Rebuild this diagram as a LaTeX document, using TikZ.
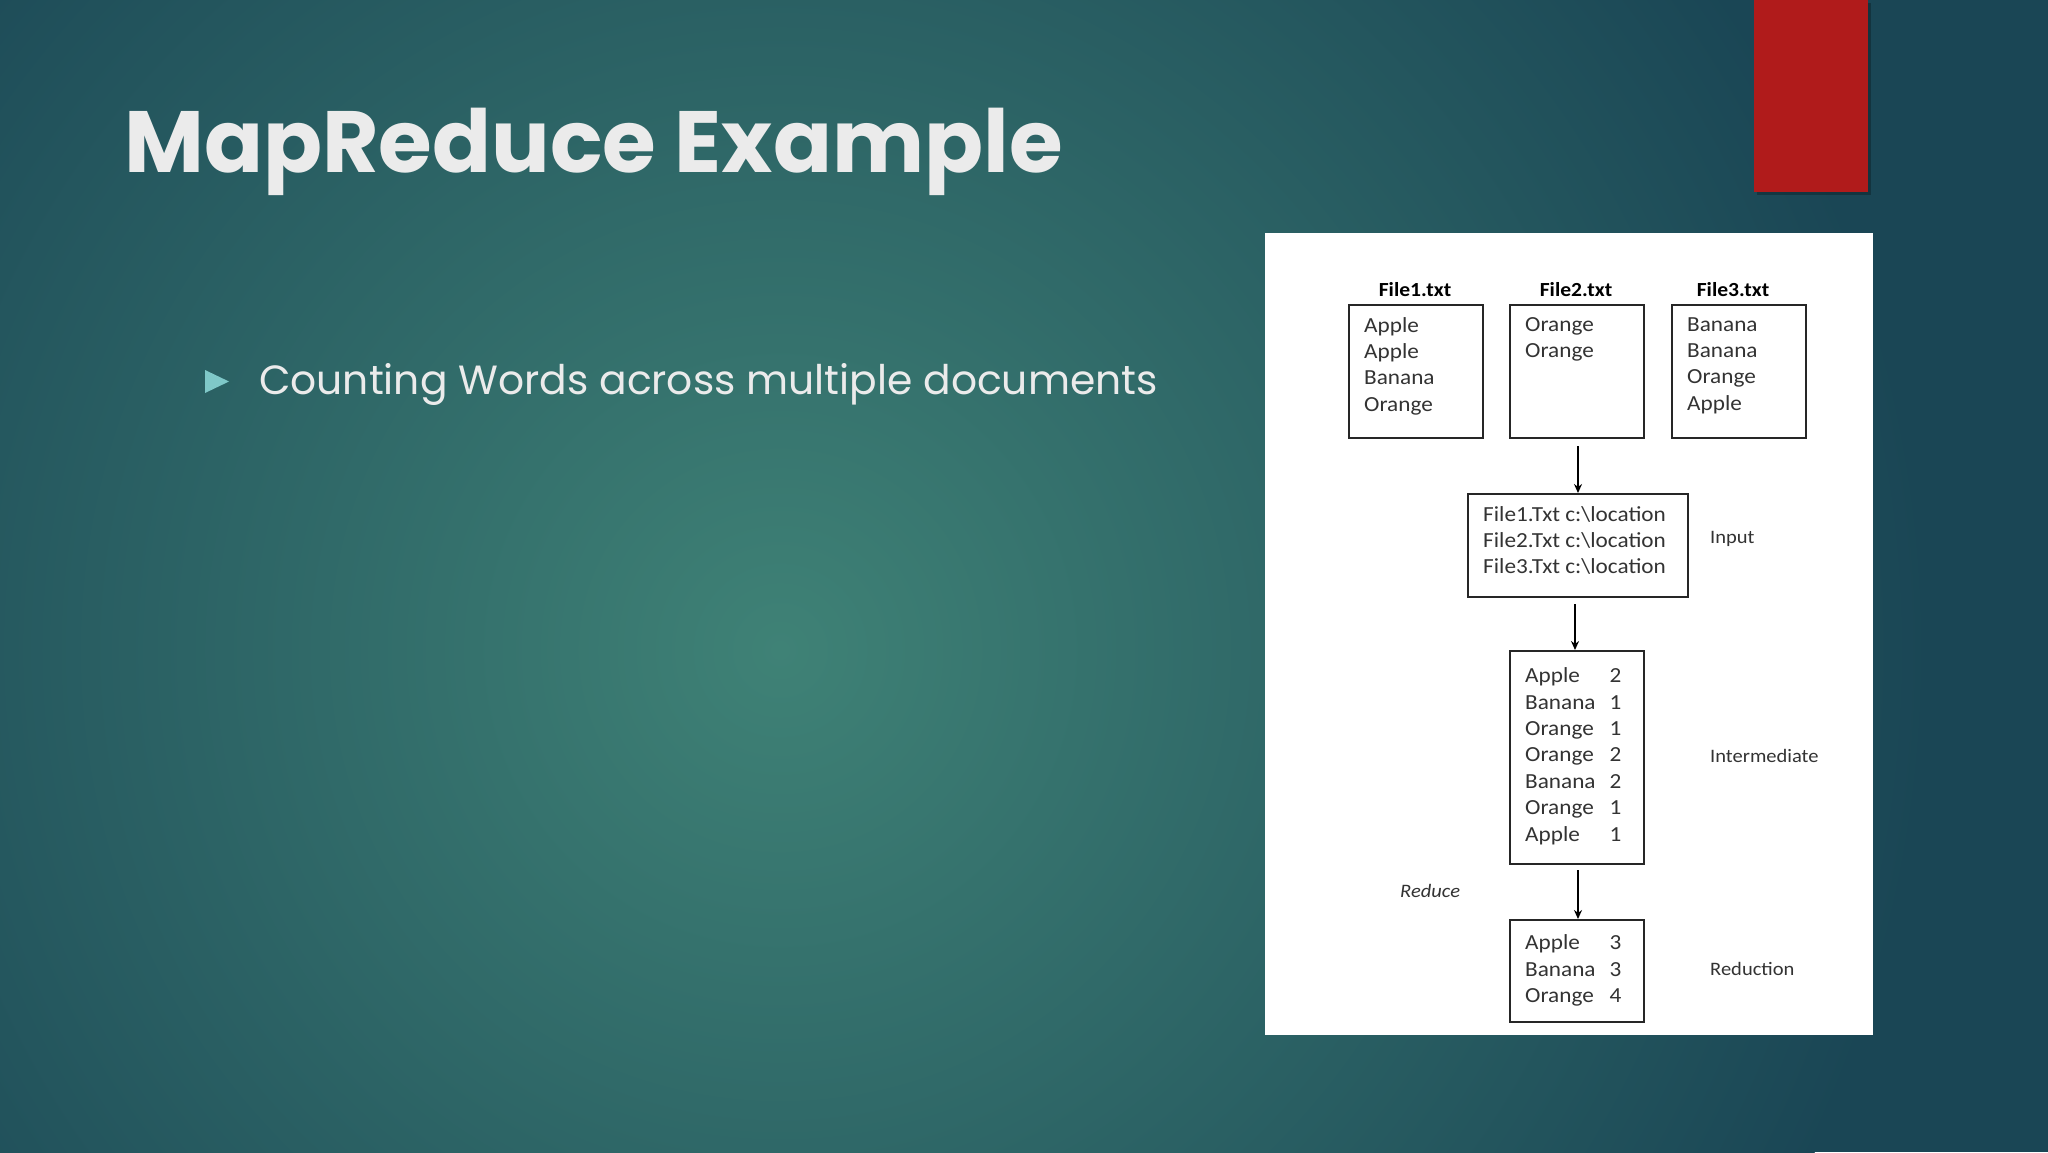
\documentclass[tikz,border=0pt]{standalone}
\usepackage{fontspec}
\setmainfont{Carlito}[FakeStretch=1.08]
\newfontfamily\titlefont{Poppins}
\usetikzlibrary{arrows.meta}
\definecolor{bgin}{HTML}{3F8276}
\definecolor{bgout}{HTML}{1A4655}
\definecolor{slidered}{HTML}{B01B1B}
\definecolor{tri}{HTML}{7FC8C8}
\tikzset{
  box/.style={draw=black!85, line width=1.8pt, inner sep=0pt},
  txt/.style={anchor=north west, inner sep=0pt, align=left, font=\fontsize{21.5}{26.4}\selectfont, text=black!80},
  lbl/.style={anchor=west, inner sep=0pt, font=\fontsize{19}{21}\selectfont, text=black!80},
  hdr/.style={inner sep=0pt, anchor=base, font=\bfseries\fontsize{20}{22}\selectfont},
  arr/.style={line width=2.2pt, -{Stealth[length=9pt,width=8pt]}}
}
\begin{document}
\begin{tikzpicture}[x=1pt,y=-1pt]
\useasboundingbox (0,0) rectangle (2048,1152);
\begin{scope}
\clip (0,0) rectangle (2048,1152);
\fill[bgout] (0,0) rectangle (2048,1152);
\shade[inner color=bgin, outer color=bgout] (780,650) circle (1150);
\end{scope}
% red tab
\fill[black,opacity=0.25] (1757,3) rectangle (1871,195);
\fill[slidered] (1754,0) rectangle (1868,192);
% title
\node[anchor=base west, inner sep=0pt, text=white!92!black, font=\titlefont\bfseries\fontsize{87}{96}\selectfont] (title) at (124,172) {MapReduce Example};
% bullet
\fill[tri] (205,370) -- (229,381.5) -- (205,393) -- cycle;
\node[anchor=base west, inner sep=0pt, text=white!92!black, font=\titlefont\fontsize{40.8}{46}\selectfont] (bullet) at (259,394) {Counting Words across multiple documents};
% white panel
\fill[white] (1265,233) rectangle (1873,1035);
% file boxes
\node[hdr] (h1) at (1415,296) {File1.txt};
\node[hdr] (h2) at (1576,296) {File2.txt};
\node[hdr] (h3) at (1733,296) {File3.txt};
\node[box, minimum width=134pt, minimum height=133pt, anchor=north west] (f1) at (1348,304) {};
\node[box, minimum width=134pt, minimum height=133pt, anchor=north west] (f2) at (1509,304) {};
\node[box, minimum width=134pt, minimum height=133pt, anchor=north west] (f3) at (1671,304) {};
\node[txt] (t1) at (1364,317) {Apple\\Apple\\Banana\\Orange};
\node[txt] (t2) at (1525,317) {Orange\\Orange};
\node[txt] (t3) at (1687,317) {Banana\\Banana\\Orange\\Apple};
% input
\node[box, minimum width=220pt, minimum height=103pt, anchor=north west] (inp) at (1467,493) {};
\node[txt] (ti) at (1483,506) {File1.Txt c:\textbackslash location\\File2.Txt c:\textbackslash location\\File3.Txt c:\textbackslash location};
\node[lbl] (li) at (1710,539) {Input};
% intermediate
\node[box, minimum width=134pt, minimum height=213pt, anchor=north west] (mid) at (1509,650) {};
\node[txt] (tm) at (1525,664) {\begin{tabular}{@{}l@{\hspace{14pt}}r@{}}Apple&2\\Banana&1\\Orange&1\\Orange&2\\Banana&2\\Orange&1\\Apple&1\end{tabular}};
\node[lbl] (lm) at (1710,756) {Intermediate};
% reduction
\node[box, minimum width=134pt, minimum height=102pt, anchor=north west] (red) at (1509,919) {};
\node[txt] (tr) at (1525,931) {\begin{tabular}{@{}l@{\hspace{14pt}}r@{}}Apple&3\\Banana&3\\Orange&4\end{tabular}};
\node[lbl] (lr) at (1710,969) {Reduction};
\node[lbl, font=\itshape\fontsize{19}{21}\selectfont] (lred) at (1400,891) {Reduce};
% arrows
\coordinate (a1) at (1578,446);
\coordinate (a2) at (1575,604);
\coordinate (a3) at (1578,870);
\draw[arr] (a1) -- (a1 |- inp.north);
\draw[arr] (a2) -- (a2 |- mid.north);
\draw[arr] (a3) -- (a3 |- red.north);
\end{tikzpicture}
\end{document}
